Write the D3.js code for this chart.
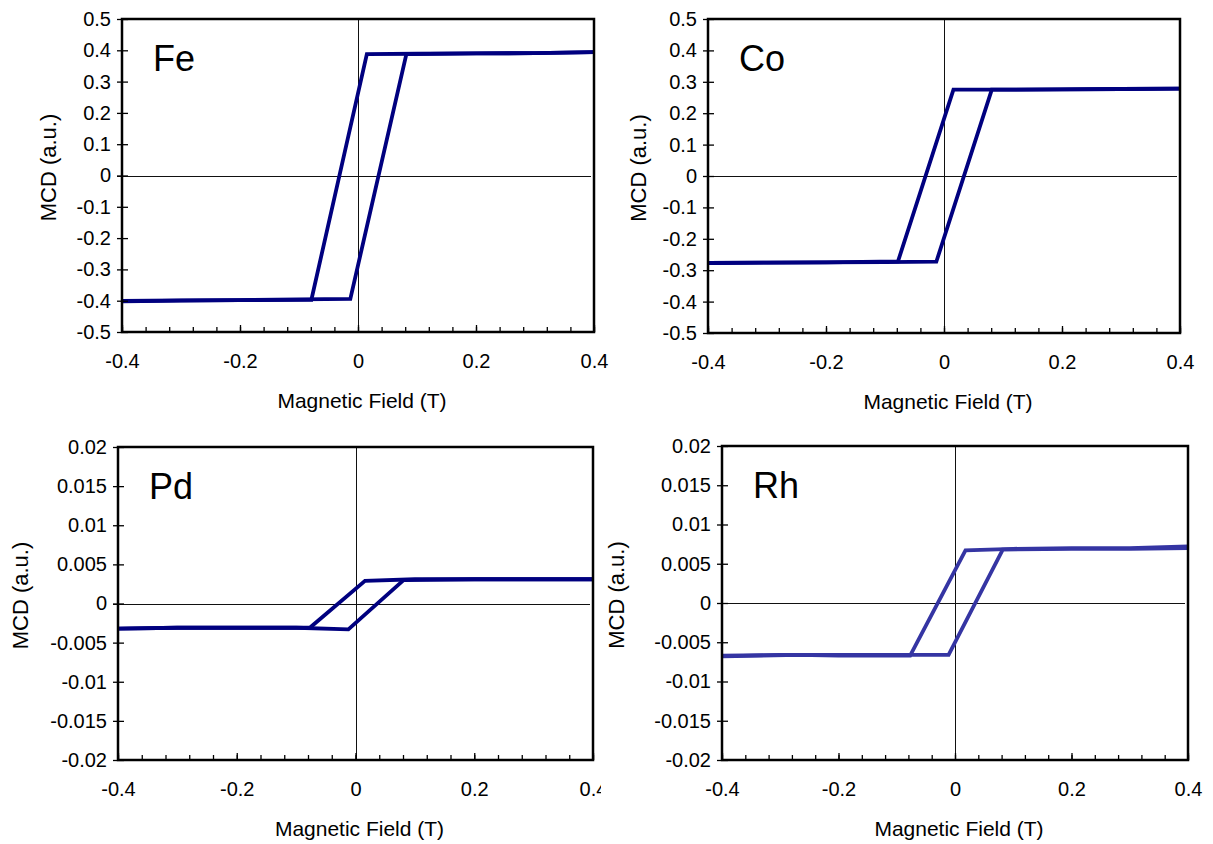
<!DOCTYPE html>
<html>
<head>
<meta charset="utf-8">
<script src="https://cdn.jsdelivr.net/npm/d3@7"></script>
<style>
  html, body { margin: 0; padding: 0; background: #fff; }
  svg { display: block; font-family: "Liberation Sans", Arial, sans-serif; }
</style>
</head>
<body>
<svg id="chart" width="1213" height="844"></svg>
<script>
// ---------------- data ----------------
const panelNames = ["Fe", "Co", "Pd", "Rh"];
const xTickValues = [-0.4, -0.2, 0, 0.2, 0.4];
const yTicksBig = [0.5, 0.4, 0.3, 0.2, 0.1, 0, -0.1, -0.2, -0.3, -0.4, -0.5];
const yTicksSmall = [0.02, 0.015, 0.01, 0.005, 0, -0.005, -0.01, -0.015, -0.02];

// Fe
const feDownX = [0.4, 0.3, 0.2, 0.1, 0.015, -0.079, -0.2, -0.3, -0.4];
const feDownY = [0.394, 0.391, 0.390, 0.389, 0.388, -0.397, -0.398, -0.399, -0.401];
const feUpX   = [-0.4, -0.3, -0.2, -0.1, -0.013, 0.082, 0.2, 0.3, 0.4];
const feUpY   = [-0.402, -0.400, -0.398, -0.396, -0.394, 0.388, 0.390, 0.391, 0.394];
// Co
const coDownX = [0.4, 0.3, 0.2, 0.1, 0.016, -0.078, -0.2, -0.3, -0.4];
const coDownY = [0.278, 0.277, 0.276, 0.275, 0.275, -0.272, -0.275, -0.276, -0.277];
const coUpX   = [-0.4, -0.3, -0.2, -0.1, -0.013, 0.081, 0.2, 0.3, 0.4];
const coUpY   = [-0.277, -0.276, -0.275, -0.274, -0.273, 0.275, 0.276, 0.277, 0.278];
// Pd
const pdDownX = [0.4, 0.3, 0.2, 0.1, 0.016, -0.077, -0.2, -0.3, -0.4];
const pdDownY = [0.0031, 0.0031, 0.0031, 0.0031, 0.0029, -0.0031, -0.0031, -0.0031, -0.0032];
const pdUpX   = [-0.4, -0.3, -0.2, -0.1, -0.012, 0.081, 0.2, 0.3, 0.4];
const pdUpY   = [-0.0032, -0.0031, -0.0031, -0.0031, -0.0033, 0.0030, 0.0031, 0.0031, 0.0031];
// Rh
const rhDownX = [0.4, 0.3, 0.2, 0.1, 0.018, -0.077, -0.2, -0.27, -0.4];
const rhDownY = [0.0072, 0.0070, 0.0070, 0.0069, 0.0067, -0.0067, -0.0067, -0.0066, -0.0068];
const rhUpX   = [-0.4, -0.3, -0.2, -0.1, -0.011, 0.082, 0.2, 0.3, 0.4];
const rhUpY   = [-0.0067, -0.0066, -0.0066, -0.0066, -0.0066, 0.0068, 0.0069, 0.0069, 0.0070];

const xTitle = "Magnetic Field (T)";
const yTitle = "MCD (a.u.)";

// ---------------- layout ----------------
const panels = [
  { name: panelNames[0], left: 122, right: 594, top: 19, bottom: 332, yDomain: [-0.5, 0.5], yTicks: yTicksBig,
    series: [[feDownX, feDownY], [feUpX, feUpY]], color: "#00007f", clip: null, ytx: 66 },
  { name: panelNames[1], left: 708, right: 1180, top: 19, bottom: 333, yDomain: [-0.5, 0.5], yTicks: yTicksBig,
    series: [[coDownX, coDownY], [coUpX, coUpY]], color: "#00007f", clip: null, ytx: 62 },
  { name: panelNames[2], left: 118, right: 593, top: 447, bottom: 760, yDomain: [-0.02, 0.02], yTicks: yTicksSmall,
    series: [[pdDownX, pdDownY], [pdUpX, pdUpY]], color: "#00007f", clip: 601, ytx: 90 },
  { name: panelNames[3], left: 722, right: 1188, top: 446, bottom: 760, yDomain: [-0.02, 0.02], yTicks: yTicksSmall,
    series: [[rhDownX, rhDownY], [rhUpX, rhUpY]], color: "#3535a3", clip: null, ytx: 98 }
];

const svg = d3.select("#chart");
const defs = svg.append("defs");
const fmt = d => String(+d.toFixed(4));
const FONT = 20;

panels.forEach((p, i) => {
  let g = svg.append("g");
  if (p.clip !== null) {
    defs.append("clipPath").attr("id", "clip" + i)
      .append("rect").attr("x", 0).attr("y", p.top - 30).attr("width", p.clip).attr("height", 844);
    g.attr("clip-path", "url(#clip" + i + ")");
  }
  const x = d3.scaleLinear().domain([-0.4, 0.4]).range([p.left, p.right]);
  const y = d3.scaleLinear().domain(p.yDomain).range([p.bottom, p.top]);

  // zero lines
  g.append("line").attr("x1", p.left - 5).attr("x2", p.right - 3)
    .attr("y1", Math.round(y(0)) + 0.5).attr("y2", Math.round(y(0)) + 0.5).attr("stroke", "#111").attr("stroke-width", 1);
  g.append("line").attr("x1", Math.round(x(0)) + 0.5).attr("x2", Math.round(x(0)) + 0.5)
    .attr("y1", p.top).attr("y2", p.bottom).attr("stroke", "#111").attr("stroke-width", 1);

  // data
  const line = d3.line().x(d => x(d[0])).y(d => y(d[1]));
  p.series.forEach(([xs, ys]) => {
    const pts = xs.map((v, k) => [v, ys[k]]);
    g.append("path").datum(pts).attr("d", line)
      .attr("fill", "none").attr("stroke", p.color).attr("stroke-width", 3.8)
      .attr("stroke-linejoin", "miter");
  });

  // y axis: outward ticks with labels
  g.append("g").attr("transform", `translate(${p.left},0)`)
    .call(d3.axisLeft(y).tickValues(p.yTicks).tickFormat(fmt).tickSizeInner(5).tickSizeOuter(0).tickPadding(6));
  // inward ticks
  g.append("g").attr("transform", `translate(${p.left},0)`)
    .call(d3.axisRight(y).tickValues(p.yTicks).tickFormat("").tickSizeInner(6).tickSizeOuter(0));

  // x axis: minor inward ticks
  const minor = d3.range(-0.4, 0.4001, 0.04).map(v => +v.toFixed(2));
  g.append("g").attr("transform", `translate(0,${p.bottom})`)
    .call(d3.axisTop(x).tickValues(minor).tickFormat("").tickSizeInner(5).tickSizeOuter(0));
  g.append("g").attr("transform", `translate(0,${p.bottom})`)
    .call(d3.axisTop(x).tickValues(xTickValues).tickFormat("").tickSizeInner(7).tickSizeOuter(0));
  // x labels
  g.append("g").attr("transform", `translate(0,${p.bottom})`)
    .call(d3.axisBottom(x).tickValues(xTickValues).tickFormat(fmt).tickSize(0).tickPadding(22));

  g.selectAll(".domain").remove();
  g.selectAll(".tick line").attr("stroke", "#000").attr("stroke-width", 1.3);
  g.selectAll(".tick text").attr("font-size", FONT).attr("fill", "#000")
    .attr("font-family", "Liberation Sans, Arial, sans-serif");

  // frame
  g.append("rect").attr("x", p.left).attr("y", p.top)
    .attr("width", p.right - p.left).attr("height", p.bottom - p.top)
    .attr("fill", "none").attr("stroke", "#000").attr("stroke-width", 2.5);

  // element label
  g.append("text").attr("x", p.left + 31).attr("y", p.top + 52)
    .attr("font-size", 36).attr("fill", "#000").text(p.name);

  // titles
  g.append("text").attr("x", (p.left + p.right) / 2 + 4).attr("y", p.bottom + 76)
    .attr("text-anchor", "middle").attr("font-size", FONT + 1).attr("fill", "#000").text(xTitle);
  g.append("text")
    .attr("transform", `translate(${p.left - p.ytx},${(p.top + p.bottom) / 2 - 8}) rotate(-90)`)
    .attr("text-anchor", "middle").attr("font-size", FONT + 2).attr("fill", "#000").text(yTitle);
});
</script>
</body>
</html>
